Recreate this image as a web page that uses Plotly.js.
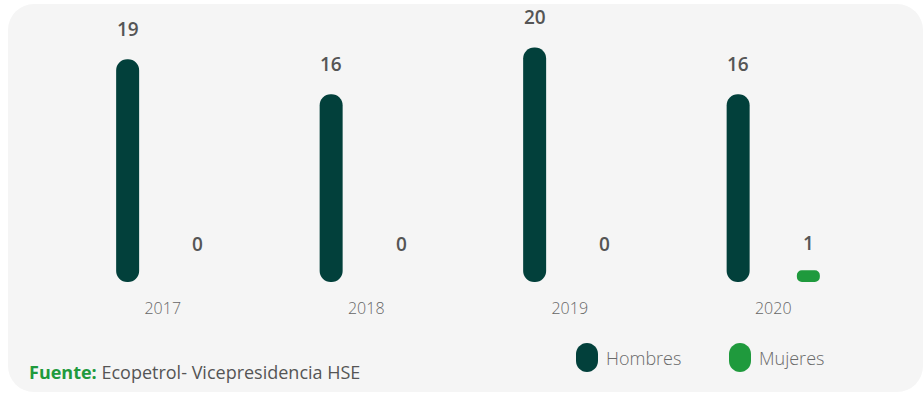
<!DOCTYPE html>
<html>
<head>
<meta charset="utf-8">
<script src="https://cdn.plot.ly/plotly-3.0.1.min.js"></script>
<style>
  html, body { margin: 0; padding: 0; background: #ffffff; }
  #panel { position: absolute; left: 8px; top: 4px; width: 915px; height: 388px; background: #f5f5f5; border-radius: 26px; }
  #chart { position: absolute; left: 0; top: 0; width: 923px; height: 393px; }
</style>
</head>
<body>
<div id="panel"></div>
<div id="chart"></div>
<script>
// ---- data ----
const years = ['2017', '2018', '2019', '2020'];
const hombres = [19, 16, 20, 16];
const mujeres = [0, 0, 0, 1];
const seriesNames = ['Hombres', 'Mujeres'];
const sourceLabel = 'Fuente:';
const sourceText = 'Ecopetrol- Vicepresidencia HSE';

// ---- style ----
const colH = '#02403b';
const colM = '#1f9a3d';
const barW = 0.113;
const offH = -0.229;
const offM = 0.116;
const font = 'Open Sans, Noto Sans, sans-serif';

// floating bars (explicit base) get both ends rounded -> pill shape
function pill(vals, color, offset, name) {
  return { type: 'bar', x: years, y: vals, base: 0, width: barW, offset: offset,
    marker: { color: color, cornerradius: 12, line: { width: 0 } },
    hoverinfo: 'skip', showlegend: false, name: name };
}

const traces = [
  pill(hombres, colH, offH, seriesNames[0]),
  pill(mujeres, colM, offM, seriesNames[1])
];

const plotL = 61, plotW = 814, plotT = 24, plotH = 258;
const catPx = plotW / years.length;
const annotations = [];
years.forEach((yr, i) => {
  annotations.push({ x: i, y: hombres[i], xref: 'x', yref: 'y', text: String(hombres[i]),
    showarrow: false, xshift: (offH + barW / 2) * catPx, yshift: 30,
    font: { family: font, size: 19, color: '#555555', weight: 600 } });
  annotations.push({ x: i, y: mujeres[i], xref: 'x', yref: 'y', text: String(mujeres[i]),
    showarrow: false, xshift: (offM + barW / 2) * catPx, yshift: 38 - 11 * mujeres[i],
    font: { family: font, size: 19, color: '#555555', weight: 600 } });
});

// source note
annotations.push({ xref: 'paper', yref: 'paper', x: (27 - plotL) / plotW, y: (plotT + plotH - 372) / plotH,
  xanchor: 'left', yanchor: 'middle',
  text: '<b style="color:' + colM + '">' + sourceLabel + '</b> ' + sourceText, showarrow: false,
  font: { family: font, size: 18, color: '#555555' } });

// custom legend (pill markers)
function pillPath(w, h) {
  const r = w / 2, s = (h - w) / 2, k = 0.5523 * r;
  const f = v => v.toFixed(2);
  return 'M ' + f(-r) + ' ' + f(s) + ' L ' + f(-r) + ' ' + f(-s) +
    ' C ' + f(-r) + ' ' + f(-s - k) + ' ' + f(-k) + ' ' + f(-s - r) + ' 0 ' + f(-s - r) +
    ' C ' + f(k) + ' ' + f(-s - r) + ' ' + f(r) + ' ' + f(-s - k) + ' ' + f(r) + ' ' + f(-s) +
    ' L ' + f(r) + ' ' + f(s) +
    ' C ' + f(r) + ' ' + f(s + k) + ' ' + f(k) + ' ' + f(s + r) + ' 0 ' + f(s + r) +
    ' C ' + f(-k) + ' ' + f(s + r) + ' ' + f(-r) + ' ' + f(s + k) + ' ' + f(-r) + ' ' + f(s) + ' Z';
}
const legendItems = [
  { name: seriesNames[0], color: colH, px: 587 },
  { name: seriesNames[1], color: colM, px: 740 }
];
const shapes = [];
legendItems.forEach(it => {
  const xa = (it.px - plotL) / plotW;
  const ya = (plotT + plotH - 357.5) / plotH;
  shapes.push({ type: 'path', xref: 'paper', yref: 'paper', xsizemode: 'pixel', ysizemode: 'pixel',
    xanchor: xa, yanchor: ya, path: pillPath(22, 29), fillcolor: it.color, line: { width: 0 } });
  annotations.push({ xref: 'paper', yref: 'paper', x: (it.px + 17 - plotL) / plotW, y: ya,
    xanchor: 'left', yanchor: 'middle', text: it.name, showarrow: false,
    font: { family: font, size: 18, color: '#6a6a6a', weight: 300 } });
});

const layout = {
  width: 923, height: 393,
  margin: { l: plotL, r: 923 - plotL - plotW, t: plotT, b: 393 - plotT - plotH },
  paper_bgcolor: 'rgba(0,0,0,0)', plot_bgcolor: 'rgba(0,0,0,0)',
  barmode: 'overlay',
  showlegend: false,
  xaxis: { type: 'category', range: [-0.5, years.length - 0.5], autorange: false,
    showgrid: false, zeroline: false, showline: false,
    ticks: 'outside', ticklen: 12, tickcolor: 'rgba(0,0,0,0)',
    tickfont: { family: font, size: 16, color: '#666666', weight: 300 }, fixedrange: true },
  yaxis: { range: [0, 22], autorange: false, visible: false, fixedrange: true },
  annotations: annotations,
  shapes: shapes,
  font: { family: font }
};

Plotly.newPlot('chart', traces, layout, { displayModeBar: false, staticPlot: true });
</script>
</body>
</html>
